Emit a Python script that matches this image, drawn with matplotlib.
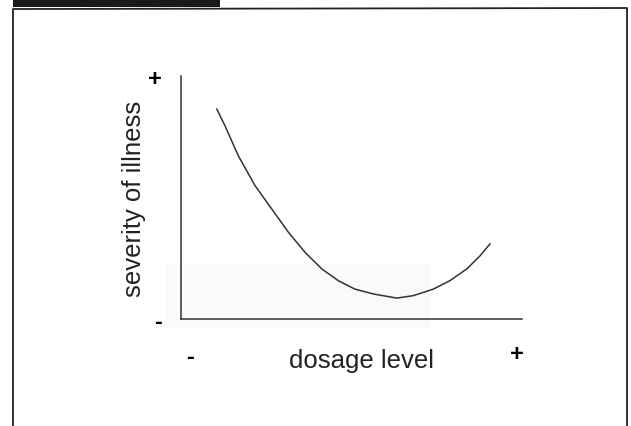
import matplotlib
matplotlib.use("Agg")
import matplotlib.pyplot as plt
from matplotlib.patches import Rectangle
from matplotlib.lines import Line2D

plt.rcParams['font.family'] = ['Liberation Sans', 'DejaVu Sans']

# curve (arbitrary 0-10 units on both axes)
dosage = [1.05, 1.29, 1.68, 2.17, 2.66, 3.15, 3.64, 4.13, 4.61, 5.10, 5.64,
          6.33, 6.81, 7.40, 7.89, 8.38, 8.77, 9.06]
severity = [8.64, 7.95, 6.72, 5.49, 4.53, 3.57, 2.74, 2.06, 1.58, 1.23, 1.03,
            0.86, 0.96, 1.23, 1.58, 2.06, 2.60, 3.09]

W, H = 631, 427
fig = plt.figure(figsize=(W / 100, H / 100), dpi=100)

# scanned page frame and the dark bar at the top
fig.add_artist(Rectangle((13 / W, 1 - 8 / H), 207 / W, 8 / H,
                         transform=fig.transFigure, color='#1a1a1a', lw=0))
fig.add_artist(Line2D([13 / W, 13 / W, 627 / W, 627 / W],
                      [0, 1 - 10 / H, 1 - 9 / H, 0],
                      transform=fig.transFigure, color='#222222', lw=1.3))
# faint grey patch from the scan
fig.add_artist(Rectangle((165 / W, 1 - 330 / H), 265 / W, 65 / H,
                         transform=fig.transFigure, color='#fafafa', lw=0,
                         zorder=0))

ax = fig.add_axes([181 / W, 1 - 320 / H, 341 / W, 243 / H])
ax.patch.set_alpha(0)
ax.plot(dosage, severity, color='#333333', lw=1.1)

ax.set_xlim(0, 10)
ax.set_ylim(0, 10)
for s in ['top', 'right']:
    ax.spines[s].set_visible(False)
for s in ['left', 'bottom']:
    ax.spines[s].set_color('#333333')
    ax.spines[s].set_linewidth(1.1)

ax.set_xticks([])
ax.set_yticks([0, 10])
ax.set_yticklabels(['-', '+'], fontsize=17, fontweight='bold')
ax.tick_params(axis='y', length=0, pad=14)

ax.text(0.26, -1.55, '-', fontsize=17, fontweight='bold', ha='center', va='center')
ax.text(9.85, -1.40, '+', fontsize=17, fontweight='bold', ha='center', va='center')
ax.text(5.3, -1.7, 'dosage level', fontsize=18.5, ha='center', va='center',
        color='#222222')
ax.text(-1.38, 5.0, 'severity of illness', fontsize=18.5, rotation=90,
        ha='center', va='center', color='#222222')

fig.savefig('out.png', dpi=100)
